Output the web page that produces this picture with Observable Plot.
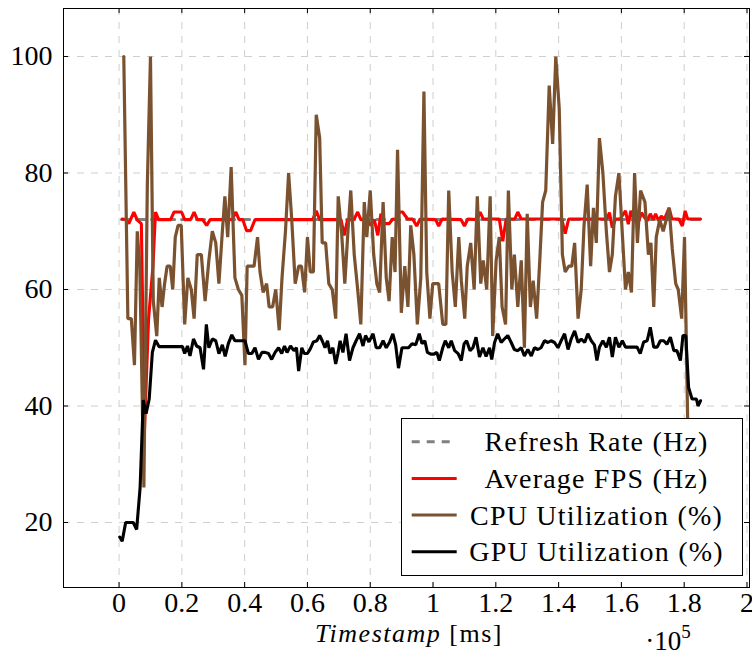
<!DOCTYPE html>
<html><head><meta charset="utf-8">
<script src="https://cdn.jsdelivr.net/npm/d3@7"></script>
<script src="https://cdn.jsdelivr.net/npm/@observablehq/plot@0.6"></script>
<style>body{margin:0;background:#fff;} svg{display:block}</style>
</head><body><div id="chart"></div>
<script>
// tick values (x in ms, labelled in units of 10^5)
const xTicks = [0, 20000, 40000, 60000, 80000, 100000, 120000, 140000, 160000, 180000, 200000];
const yTicks = [20, 40, 60, 80, 100];
const seriesNames = ["Refresh Rate (Hz)", "Average FPS (Hz)", "CPU Utilization (%)", "GPU Utilization (%)"];
const seriesColors = ["#808080", "#ff0000", "#7a5230", "#000000"];

// timestamps in seconds (converted to ms below)
const refreshTimeS = [0.8, 185.2];
const refreshValue = [72, 72];

const fpsTimeS = [1.0,2.1,3.1,4.7,5.8,7.1,8.1,9.4,10.8,11.6,12.6,16.4,17.5,19.9,20.9,22.8,23.9,24.9,26.6,27.9,29.0,36.0,37.2,38.2,39.4,40.6,41.9,43.3,61.7,62.8,63.9,70.7,71.7,72.8,74.8,76.0,77.0,79.1,80.2,81.3,82.4,83.4,84.5,86.0,87.2,88.2,89.3,90.3,91.9,93.5,94.8,95.9,100.8,101.8,102.9,108.9,110.0,111.1,114.0,115.0,116.0,121.1,122.2,123.3,126.0,127.0,128.1,141.0,142.1,143.2,155.3,156.2,157.1,158.1,159.6,161.3,162.2,163.0,163.9,164.8,165.6,166.4,167.3,168.2,169.2,170.1,170.9,171.8,172.7,173.7,175.2,176.1,178.3,179.4,180.3,181.1,185.2];
const fpsValue = [72.1,72,71.3,73.3,71.9,71.3,36,55,64,73.3,72,72,73.3,73.3,72,72,73.3,72,72,71,72,72,73.3,72,72,70.1,70.1,72,72,73.5,72,72,69.3,72,72,73.3,72,72,71,72,69.3,73,71.3,71.3,72.1,72,73.3,73.3,72.1,72.1,70.9,72.1,72,70.9,72.1,72,70.9,72.1,72,73.3,72.1,72.1,68.3,72.1,72.1,73.3,72.1,72.1,69.6,72.1,72.1,73.2,70.6,72.1,72.1,73.5,71.2,73.5,72.1,73.2,71.8,73.2,72.4,71.8,73,72,73,71.8,72.6,72.1,74,72.1,72.1,70.9,73.5,72.1,72.1];

const cpuTimeS = [1.5,2.8,3.9,4.9,5.8,6.6,7.9,9.0,10.0,10.9,12.0,12.8,13.7,14.5,15.3,16.3,17.1,17.9,18.8,19.8,20.9,21.9,23.0,23.9,24.9,26.2,27.4,28.6,29.7,30.8,31.8,32.9,33.7,34.6,35.7,36.9,38.0,39.1,40.1,40.8,41.9,43.0,44.1,44.9,45.9,47.0,47.8,48.9,49.9,51.0,51.9,53.0,54.0,55.0,56.1,57.2,58.1,59.1,60.0,60.9,61.9,62.8,63.9,64.7,65.8,66.8,67.9,69.0,69.8,70.9,71.9,72.9,73.8,74.9,76.0,77.0,78.1,78.9,80.0,81.1,82.1,83.0,84.1,85.1,86.0,87.0,87.9,88.7,89.9,91.0,92.0,92.9,93.9,95.0,96.1,97.1,98.0,99.0,99.9,100.9,101.8,103.1,104.1,105.0,106.1,107.1,108.2,109.0,110.1,110.9,112.0,113.1,114.1,115.2,116.0,117.1,118.2,119.0,120.1,121.1,122.0,123.1,124.0,125.1,125.9,127.0,128.1,129.1,130.0,131.0,131.9,133.0,134.0,134.9,135.9,137.0,138.1,139.1,140.2,141.2,142.1,143.2,144.2,145.1,146.2,147.2,148.1,149.1,150.2,151.1,152.0,153.0,154.1,155.2,156.2,157.1,158.1,159.2,160.3,161.3,162.2,163.2,164.2,165.1,166.1,167.5,168.6,169.4,170.3,171.1,172.2,173.3,174.3,175.2,176.2,177.3,178.1,179.2,180.1,181.5];
const cpuValue = [100,55,55,47,70,64,26,78,100,58,52,62,57,61,64,64,60,69,71,71,54,62,60,55,66,66,58,65,70,68,61,70,76,69,81,62,60,59,47,64,64,64,69,63,59.5,61,57,57,60,53,62,70,80,72,61,64,64,59.5,69,63,63,90,86,68,68,61,60,55,76,69.6,61,70,77,66,60,54,75,69,77,66,61,59.5,75,62,58,69,63,84,56,64,57,71,66,54,62,94,63,55,61,61,61,54,54,77,63,57,69,61.6,55,64,68,60,76,61,65,60,76,52,65,69,57,54,77,60,66,57,65,50,73,57,61.5,55,65,75,77,95,85,100,91,66,63,64,64,68,55,60,71,78,64,74,68,86,80,70,63,66,76,80,69.5,60,63,59.5,80,68,77,75,66,68,57,69,72,70,72,74,67,61,60,55,69,25];

const gpuTimeS = [0.2,1.0,2.1,3.3,4.5,5.6,6.7,7.7,8.6,9.6,10.6,11.6,12.7,20.2,20.9,21.8,22.6,23.7,24.7,25.8,26.9,27.8,28.6,29.7,30.8,31.8,32.9,33.8,34.8,35.9,36.9,38.0,39.1,40.1,41.2,42.3,43.3,44.4,45.5,46.5,47.6,48.6,49.7,50.8,51.8,52.7,53.5,54.6,55.7,56.5,57.2,58.2,59.0,60.0,60.9,61.9,63.0,63.9,64.7,65.6,66.4,67.2,68.1,69.0,69.7,70.4,71.3,72.3,73.4,74.5,75.5,76.6,77.7,78.5,79.6,80.9,81.9,83.0,84.1,85.1,86.2,87.2,88.1,89.0,90.1,91.2,92.2,93.3,94.5,95.6,96.5,97.4,98.2,99.3,100.3,101.2,102.0,103.1,103.9,105.0,105.8,106.9,108.0,109.0,109.9,110.7,111.8,112.7,113.7,114.8,115.9,116.9,118.0,118.7,119.6,120.6,121.7,122.7,123.8,124.9,125.9,127.0,128.1,129.1,130.2,131.3,132.3,133.4,134.4,135.5,136.6,137.6,138.7,139.8,140.8,141.9,143.0,144.0,145.1,146.2,147.2,148.3,149.3,150.4,151.4,152.2,153.0,154.1,155.2,156.2,157.1,158.1,159.2,160.3,161.3,162.4,163.7,165.0,166.0,167.1,168.2,169.2,170.3,171.4,172.4,173.5,174.5,175.6,176.7,177.7,178.8,179.6,180.5,181.4,182.5,183.9,184.4,185.2];
const gpuValue = [17.5,16.8,20,20,20,18.8,26,41,38.7,41.2,49.2,51.3,50.2,50.2,49,50.3,48.6,51.5,50.3,50,46.3,54,50,51.5,51.2,49,50.5,48.5,50.7,52.2,51.2,51.2,51.2,51.2,49,49,50,48,49.2,49.2,49,48,49.2,50,49,50.3,49.2,50.3,49.5,50,46,50,49,49,49.8,51,51.2,52.1,51.2,50,51.2,49,50,47.2,49,51.2,49.2,52.4,47.8,50,51.2,52.4,50.3,52.1,51,52.4,50,50,51.2,50,51,52.4,50.5,46.5,50,50,50,50.7,50.5,52.4,50.7,51.2,49.2,48.9,48.9,49.2,47.8,50,51.2,50,51.2,49.5,49,47.8,50.7,51.2,49.5,50,51.8,48.4,50,48.5,50,48,50.9,52.4,50.9,51.5,52.1,50.9,49.7,49.5,50,48.6,49.7,48.6,50,49.7,50,51.2,50.9,51.2,50.9,50,51.2,52.4,49.7,51.5,52.9,50.9,51.5,50.9,52.4,51.2,50.5,47.8,50.1,51.2,50.1,51.8,48.4,51.8,50.1,51.2,50.1,50.1,50.1,50.1,49,51,51.2,53.5,50.1,50.1,51.2,51.2,50.6,51.8,49.5,49.5,47.8,52.1,52.1,43.2,41.2,41.2,40,40.9];

const toRows = (ts, vs) => ts.map((s, i) => ({t: s * 1000, v: vs[i]}));
const refresh = toRows(refreshTimeS, refreshValue);
const fps = toRows(fpsTimeS, fpsValue);
const cpu = toRows(cpuTimeS, cpuValue);
const gpu = toRows(gpuTimeS, gpuValue);

const W = 752, H = 669, mL = 63, mR = 3, mT = 8, mB = 82;
const plotW = W - mL - mR, plotH = H - mT - mB;
const FONT = "'Liberation Serif', 'Times New Roman', serif";
const fmtX = d => String(+(d / 1e5).toFixed(1));

const chart = Plot.plot({
  width: W, height: H,
  marginLeft: mL, marginRight: mR, marginTop: mT, marginBottom: mB,
  style: {fontFamily: FONT, fontSize: "28px", color: "black", background: "white", overflow: "visible"},
  x: {domain: [-17700, 200800], ticks: xTicks, tickFormat: fmtX, tickSize: 0, tickPadding: 5, label: null},
  y: {domain: [8.84, 108.24], ticks: yTicks, tickSize: 0, tickPadding: 11, label: null},
  marks: [
    Plot.ruleX(xTicks, {stroke: "#cfcfcf", strokeWidth: 1, strokeDasharray: "7,7"}),
    Plot.ruleY(yTicks, {stroke: "#cfcfcf", strokeWidth: 1, strokeDasharray: "7,7"}),
    Plot.line(refresh, {x: "t", y: "v", stroke: seriesColors[0], strokeWidth: 3, strokeDasharray: "8,7"}),
    Plot.line(fps, {x: "t", y: "v", stroke: seriesColors[1], strokeWidth: 3.1, strokeLinejoin: "miter"}),
    Plot.line(cpu, {x: "t", y: "v", stroke: seriesColors[2], strokeWidth: 3.2, strokeLinejoin: "miter"}),
    Plot.line(gpu, {x: "t", y: "v", stroke: seriesColors[3], strokeWidth: 3.1, strokeLinejoin: "miter"}),
    // inward tick marks on all four sides
    Plot.ruleX(xTicks, {stroke: "black", strokeWidth: 1, insetTop: plotH - 5}),
    Plot.ruleX(xTicks, {stroke: "black", strokeWidth: 1, insetBottom: plotH - 5}),
    Plot.ruleY(yTicks, {stroke: "black", strokeWidth: 1, insetRight: plotW - 5}),
    Plot.ruleY(yTicks, {stroke: "black", strokeWidth: 1, insetLeft: plotW - 5}),
    Plot.frame({stroke: "black", strokeWidth: 1})
  ]
});

const svg = d3.select(chart);
// x label
const xl = svg.append("text").attr("x", 409).attr("y", 642).attr("text-anchor", "middle")
  .attr("font-family", FONT).attr("font-size", 26).attr("fill", "black").style("letter-spacing", "1.5px");
xl.append("tspan").attr("font-style", "italic").text("Timestamp");
xl.append("tspan").text(" [ms]");
const sc = svg.append("text").attr("x", 668).attr("y", 650).attr("font-family", FONT)
  .attr("font-size", 27).attr("fill", "black");
sc.append("tspan").text("·10");
sc.append("tspan").attr("font-size", 19).attr("dy", -12).text("5");

// legend
const lg = svg.append("g");
lg.append("rect").attr("x", 401.5).attr("y", 418.5).attr("width", 341).attr("height", 157)
  .attr("fill", "white").attr("stroke", "black").attr("stroke-width", 1);
seriesNames.forEach((name, i) => {
  const cy = 441.7 + i * 36.7;
  lg.append("line").attr("x1", 411.7).attr("x2", 456.7).attr("y1", cy).attr("y2", cy)
    .attr("stroke", seriesColors[i]).attr("stroke-width", 3)
    .attr("stroke-dasharray", i === 0 ? "8,7" : null);
  lg.append("text").attr("x", 596.5).attr("y", cy + 9.5).attr("text-anchor", "middle")
    .attr("font-family", FONT).attr("font-size", 28).attr("fill", "black")
    .style("letter-spacing", "1.2px").text(name);
});

document.getElementById("chart").appendChild(chart);
</script>
</body></html>
